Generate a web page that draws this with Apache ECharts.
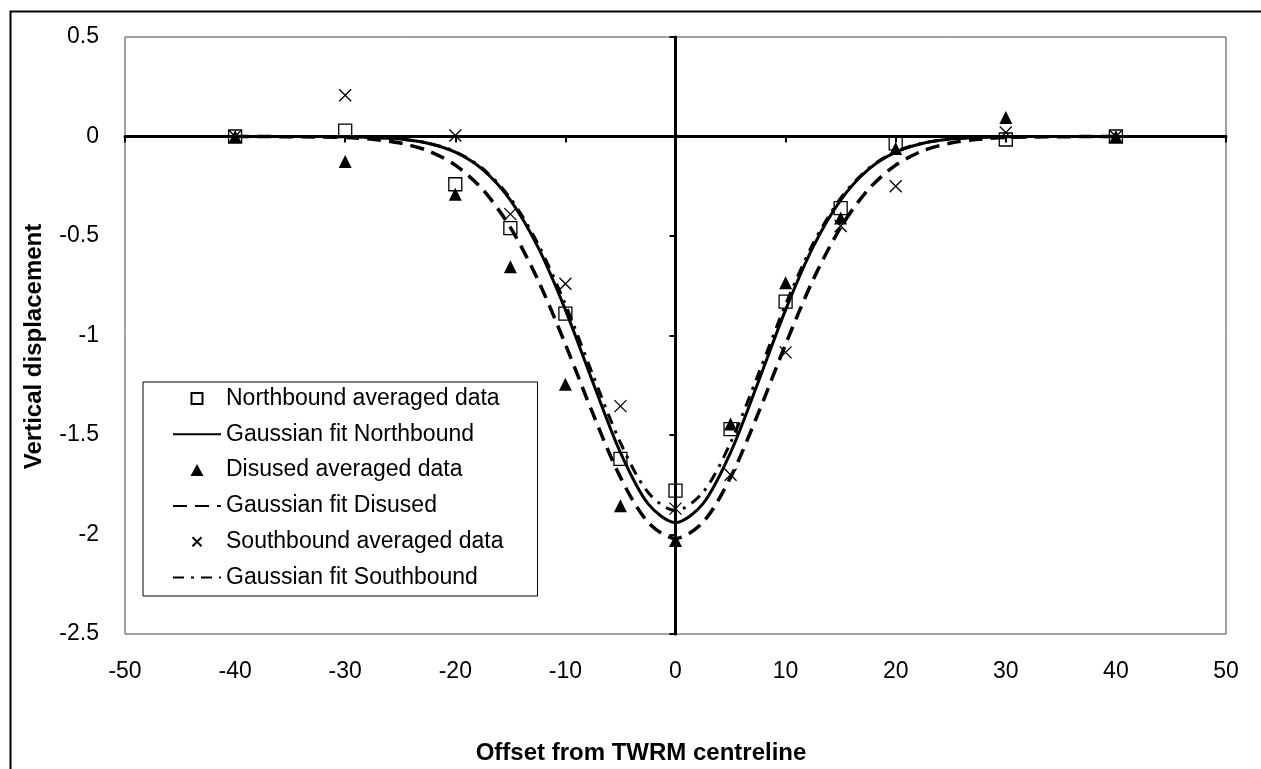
<!DOCTYPE html>
<html>
<head>
<meta charset="utf-8">
<script src="https://cdn.jsdelivr.net/npm/echarts@6/dist/echarts.min.js"></script>
<style>
  html,body{margin:0;padding:0;background:#fff;}
  #chart{width:1261px;height:769px;}
</style>
</head>
<body>
<div id="chart"></div>
<script>
// measured offsets (m) and averaged displacements
const offsets = [-40, -30, -20, -15, -10, -5, 0, 5, 10, 15, 20, 30, 40];
const northData = [0, 0.03, -0.24, -0.46, -0.89, -1.62, -1.78, -1.47, -0.83, -0.36, -0.035, -0.015, 0];
const disusedData = [0, -0.125, -0.29, -0.655, -1.245, -1.855, -2.03, -1.445, -0.735, -0.41, -0.06, 0.095, 0];
const southData = [0, 0.207, 0.005, -0.39, -0.74, -1.355, -1.87, -1.70, -1.085, -0.45, -0.25, 0.02, 0];

// fitted curves
const fitX = [-40, -35, -30, -27.5, -25, -22.5, -20, -17.5, -15, -12.5, -10, -7.5, -5, -2.5, 0,
  2.5, 5, 7.5, 10, 12.5, 15, 17.5, 20, 22.5, 25, 27.5, 30, 35, 40];
const northFit = [0, 0, -0.001, -0.005, -0.013, -0.034, -0.079, -0.167, -0.320, -0.555, -0.871, -1.236, -1.588, -1.845, -1.94,
  -1.845, -1.588, -1.236, -0.871, -0.555, -0.320, -0.167, -0.079, -0.034, -0.013, -0.005, -0.001, 0, 0];
const disusedFit = [0, -0.001, -0.005, -0.014, -0.033, -0.071, -0.144, -0.267, -0.457, -0.720, -1.044, -1.393, -1.713, -1.938, -2.02,
  -1.938, -1.713, -1.393, -1.044, -0.720, -0.457, -0.267, -0.144, -0.071, -0.033, -0.014, -0.005, -0.001, 0];
const southFit = [0, 0, -0.001, -0.004, -0.013, -0.033, -0.076, -0.162, -0.310, -0.538, -0.844, -1.198, -1.539, -1.788, -1.88,
  -1.788, -1.539, -1.198, -0.844, -0.538, -0.310, -0.162, -0.076, -0.033, -0.013, -0.004, -0.001, 0, 0];

const xTicks = {min: -50, max: 50, interval: 10};
const yTicks = {min: -2.5, max: 0.5, interval: 0.5};

const FONT = "'Liberation Sans', Arial, sans-serif";
const pairs = (xs, ys) => xs.map((x, i) => [x, ys[i]]);
const crossPath = 'path://M0,0L10,10M10,0L0,10';
const clear = 'rgba(255,255,255,0)';

// legend icons: the leading moves pin the box to 48x12 so the marker isn't stretched
const iconSquare = 'path://M0,0M48,12M18.5,0.5H29.5V11.5H18.5Z';
const iconTriangle = 'path://M0,0M48,12M24,0L30.5,12L17.5,12Z';
const iconCross = 'path://M0,0M48,12M19.5,1.5L28.5,10.5M28.5,1.5L19.5,10.5';

const scatter = (name, data, symbol, size, style) => ({
  name, type: 'scatter', data: pairs(offsets, data), symbol, symbolSize: size,
  itemStyle: Object.assign({opacity: 1}, style), z: 4
});
// itemStyle is transparent so the legend shows only the line
const fit = (name, data, lineType, width) => ({
  name, type: 'line', data: pairs(fitX, data), symbol: 'none', smooth: 0.3,
  itemStyle: {color: clear, borderColor: clear},
  lineStyle: {color: '#000', width, type: lineType}, z: 3
});

const chart = echarts.init(document.getElementById('chart'));
chart.setOption({
  animation: false,
  backgroundColor: '#fff',
  textStyle: {fontFamily: FONT},
  graphic: [{
    type: 'rect', left: 8, top: 9, silent: true,
    shape: {width: 1300, height: 800},
    style: {fill: 'none', stroke: '#000', lineWidth: 2}
  }],
  title: {
    text: 'Offset from TWRM centreline', left: 636, top: 736, textAlign: 'center',
    textStyle: {fontFamily: FONT, fontWeight: 'bold', fontSize: 24, color: '#000'}
  },
  grid: {left: 125, right: 35, top: 37, bottom: 135, show: true, borderColor: '#444', borderWidth: 1},
  legend: {
    orient: 'vertical', left: 143, top: 382,
    padding: [5, 34, 7, 29],
    itemWidth: 48, itemHeight: 12, itemGap: 12.8,
    backgroundColor: '#fff', borderColor: '#000', borderWidth: 1,
    textStyle: {fontFamily: FONT, fontSize: 23, color: '#000', lineHeight: 23},
    data: [
      {name: 'Northbound averaged data', icon: iconSquare},
      'Gaussian fit Northbound',
      {name: 'Disused averaged data', icon: iconTriangle},
      'Gaussian fit Disused',
      {name: 'Southbound averaged data', icon: iconCross},
      'Gaussian fit Southbound'
    ]
  },
  xAxis: [
    { // labels along the bottom edge
      type: 'value', ...xTicks,
      axisLine: {show: false, onZero: false}, axisTick: {show: false}, splitLine: {show: false},
      axisLabel: {fontFamily: FONT, fontSize: 23, color: '#000', margin: 26}
    },
    { // thick zero line with ticks
      type: 'value', ...xTicks, position: 'bottom',
      axisLine: {show: true, onZero: true, onZeroAxisIndex: 0, lineStyle: {color: '#000', width: 3}},
      axisTick: {show: true, length: 6, lineStyle: {color: '#000', width: 2}},
      axisLabel: {show: false}, splitLine: {show: false}
    }
  ],
  yAxis: [
    {
      type: 'value', ...yTicks,
      name: 'Vertical displacement', nameLocation: 'middle', nameGap: 79,
      nameTextStyle: {fontFamily: FONT, fontWeight: 'bold', fontSize: 24, color: '#000', padding: [0, 22, 0, 0]},
      axisLine: {show: false, onZero: false}, axisTick: {show: false}, splitLine: {show: false},
      axisLabel: {fontFamily: FONT, fontSize: 23, color: '#000', margin: 26}
    },
    {
      type: 'value', ...yTicks, position: 'left',
      axisLine: {show: true, onZero: true, onZeroAxisIndex: 0, lineStyle: {color: '#000', width: 3}},
      axisTick: {show: true, length: 6, lineStyle: {color: '#000', width: 2}},
      axisLabel: {show: false}, splitLine: {show: false}
    }
  ],
  series: [
    scatter('Northbound averaged data', northData, 'rect', 13,
      {color: clear, borderColor: '#000', borderWidth: 1.3}),
    fit('Gaussian fit Northbound', northFit, 'solid', 3),
    scatter('Disused averaged data', disusedData, 'triangle', 13, {color: '#000'}),
    fit('Gaussian fit Disused', disusedFit, [14, 8], 3.5),
    scatter('Southbound averaged data', southData, crossPath, 12,
      {color: clear, borderColor: '#000', borderWidth: 1.3}),
    fit('Gaussian fit Southbound', southFit, [11, 7, 3, 7], 3)
  ]
});
</script>
</body>
</html>
